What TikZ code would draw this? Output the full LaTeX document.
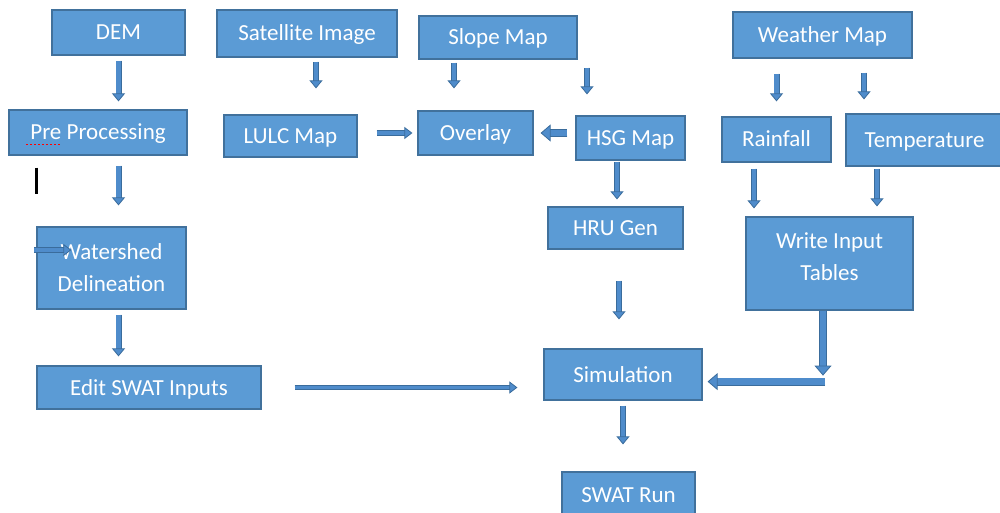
\documentclass[tikz,border=0pt]{standalone}
\usepackage{fontspec}
\setmainfont{Carlito}
\usetikzlibrary{arrows.meta,calc}
\definecolor{boxfill}{HTML}{5B9BD5}
\definecolor{boxedge}{HTML}{41719C}
\definecolor{arrfill}{HTML}{4F8CCB}
\definecolor{arredge}{HTML}{3A6C9C}
\begin{document}
\begin{tikzpicture}[x=1pt,y=-1pt,
  boxfont/.style={text=white, font=\fontsize{23}{32}\selectfont, align=center},
  box/.style={draw=boxedge, line width=1.2pt, fill=boxfill, inner sep=0pt, boxfont},
  oneline/.style={text height=20pt, text depth=5pt},
  sz/.style 2 args={minimum width=#1pt, minimum height=#2pt},
  flow/.style n args={3}{draw=arredge, line width=0.8pt, double=arrfill,
    double distance=#1,
    -{Triangle[width=#2, length=#3, fill=arrfill, color=arredge, line width=0.8pt]}},
  va/.style={flow={4.4pt}{13pt}{8pt}},
  ha/.style={flow={3.8pt}{12pt}{8pt}},
  wide/.style={flow={6.4pt}{17pt}{10pt}},
  cursorbar/.style={draw=black, line width=3pt},
  spellmark/.style={draw=red, line width=1.3pt, dash pattern=on 1.4pt off 2.6pt}
]
\useasboundingbox (0,0) rectangle (1000,513);
\clip (0,0) rectangle (1000,513);
\fill[white] (0,0) rectangle (1000,513);

% top row
\node[box, oneline, sz={133}{45}] (dem)   at (118.5,32.5) {DEM};
\node[box, oneline, sz={180}{47}] (sat)   at (307,33.5)   {Satellite Image};
\node[box, oneline, sz={158}{43}] (slope) at (498,37.5)   {Slope Map};
\node[box, oneline, sz={179}{46}] (wx)    at (822.5,35)   {Weather Map};

% second row
\node[box, oneline, sz={178}{45}] (pre)  at (98,132.5)   {Pre Processing};
\node[box, oneline, sz={133}{42}] (lulc) at (290.5,136)  {LULC Map};
\node[box, oneline, sz={115}{44}] (ovl)  at (475.5,133)  {Overlay};
\node[box, oneline, sz={109}{44}] (hsg)  at (630.5,138)  {HSG Map};
\node[box, oneline, sz={109}{45}] (rain) at (776.5,139.5) {Rainfall};
\node[box, oneline, sz={157}{52}] (temp) at (924.5,140)  {Temperature};

% middle and lower rows
\node[box, oneline, sz={135}{42}] (hru)  at (615.5,228)   {HRU Gen};
\node[box, sz={149}{82}]          (ws)   at (111.5,268)   {Watershed\\Delineation};
\node[box, sz={167}{93},
  label={[boxfont, yshift=7pt]center:{Write Input\\Tables}}] (wit) at (829.5,263.5) {};
\node[box, oneline, sz={224}{43}] (edit) at (149,387.5)   {Edit SWAT Inputs};
\node[box, oneline, sz={158}{51}] (sim)  at (623,374.5)   {Simulation};
\node[box, oneline, sz={133}{46}] (run)  at (628.5,495)   {SWAT Run};

% editing marks
\draw[spellmark] ([shift={(18,-11)}]pre.south west) -- ++(34,0);
\draw[cursorbar] ([shift={(28.5,12)}]pre.south west) -- ++(0,26);

% connectors
\draw[va, shorten <=5pt, shorten >=8pt] (dem.south) -- (dem.south |- pre.north);
\draw[va, shorten <=10pt, shorten >=21pt] (dem.south |- pre.south) -- (dem.south |- ws.north);
\draw[va, shorten <=5pt, shorten >=9pt] (dem.south |- ws.south) -- (dem.south |- edit.north);
\draw[va, shorten <=4pt, shorten >=26pt] ([xshift=9pt]sat.south) -- ([xshift=9pt]sat.south |- lulc.north);
\draw[va, shorten <=3pt, shorten >=22pt] ([xshift=-44pt]slope.south) -- ([xshift=-44pt]slope.south |- ovl.north);
\draw[va, shorten <=8pt, shorten >=21pt] ([xshift=-43.5pt]hsg.north |- slope.south) -- ([xshift=-43.5pt]hsg.north);
\draw[ha, shorten <=19pt, shorten >=5pt] (lulc.east |- ovl.west) -- (ovl.west);
\draw[wide, shorten <=8pt, shorten >=7pt] (hsg.west |- ovl.east) -- (ovl.east);
\draw[va, shorten <=1pt, shorten >=7pt] ([xshift=-13.5pt]hsg.south) -- ([xshift=-13.5pt]hsg.south |- hru.north);
\draw[va, shorten <=15pt, shorten >=15pt] (rain.north |- wx.south) -- (rain.north);
\draw[va, shorten <=14pt, shorten >=14pt] ([xshift=-60.5pt]temp.north |- wx.south) -- ([xshift=-60.5pt]temp.north);
\draw[va, shorten <=6pt, shorten >=8pt] ([xshift=-22.5pt]rain.south) -- ([xshift=-22.5pt]rain.south |- wit.north);
\draw[va, shorten <=2pt, shorten >=10pt] ([xshift=-47.5pt]temp.south) -- ([xshift=-47.5pt]temp.south |- wit.north);
\draw[va, shorten <=31pt, shorten >=29pt] ([xshift=3.5pt]hru.south) -- ([xshift=3.5pt]hru.south |- sim.north);

\coordinate (bend) at ([shift={(-6.5,71)}]wit.south);
\draw[wide, shorten >=5pt] ([xshift=2pt]bend) -- (bend -| sim.east);
\draw[wide, shorten >=6pt] ([xshift=-6.5pt]wit.south) -- (bend);

\draw[ha, shorten <=33pt, shorten >=26pt] (edit.east) -- (edit.east -| sim.west);
\draw[va, shorten <=5pt, shorten >=27pt] (sim.south) -- (sim.south |- run.north);

\coordinate (stub)    at ([shift={(-2,-18)}]ws.west);
\coordinate (stubend) at ([shift={(35,-18)}]ws.west);
\draw[ha] (stub) -- (stubend);
\end{tikzpicture}
\end{document}
